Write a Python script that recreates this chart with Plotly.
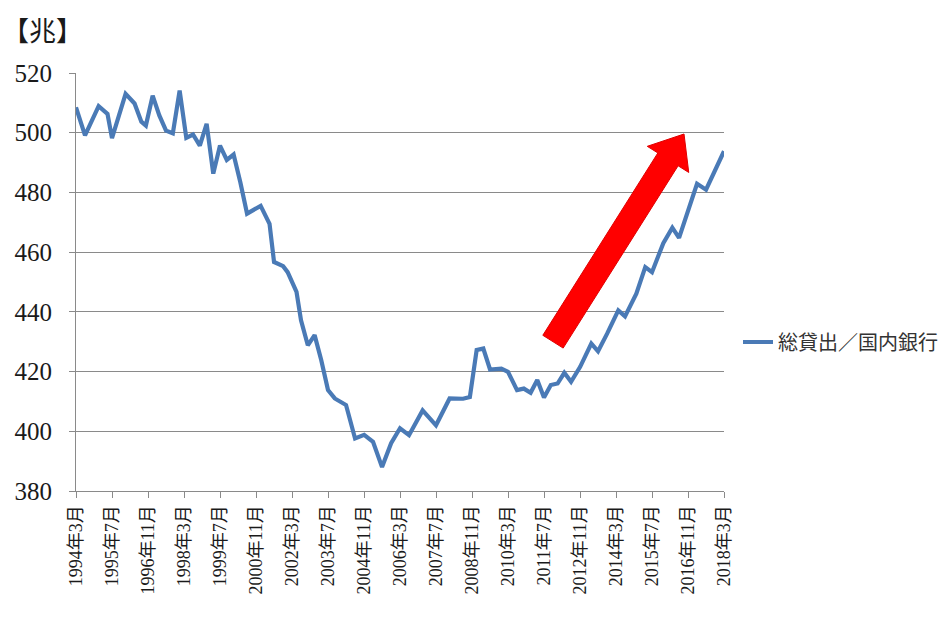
import numpy as np
import plotly.graph_objects as go

# ---- data ----
dates = [
    "1994-03", "1994-07", "1995-01", "1995-05", "1995-07", "1996-01", "1996-05", "1996-08",
    "1996-10", "1997-01", "1997-04", "1997-07", "1997-10", "1998-01", "1998-04", "1998-07",
    "1998-10", "1999-01", "1999-04", "1999-07", "1999-10", "2000-01", "2000-04", "2000-07",
    "2001-01", "2001-05", "2001-07", "2001-11", "2002-01", "2002-05", "2002-07", "2002-10",
    "2003-01", "2003-04", "2003-07", "2003-10", "2004-03", "2004-07", "2004-11", "2005-03",
    "2005-07", "2005-11", "2006-03", "2006-07", "2007-01", "2007-07", "2008-01", "2008-07",
    "2008-10", "2009-01", "2009-04", "2009-07", "2009-12", "2010-03", "2010-07", "2010-10",
    "2011-01", "2011-04", "2011-07", "2011-10", "2012-01", "2012-04", "2012-07", "2012-11",
    "2013-04", "2013-07", "2013-11", "2014-04", "2014-07", "2014-12", "2015-04", "2015-07",
    "2015-12", "2016-04", "2016-07", "2016-11", "2017-03", "2017-07", "2018-03",
]
loans = [
    508.5, 499.1, 508.9, 506.3, 498.2, 513.0, 509.8, 503.7,
    502.4, 512.4, 505.8, 500.7, 499.8, 514.1, 498.3, 499.4,
    495.7, 503.0, 486.3, 495.7, 490.9, 492.7, 483.4, 472.9,
    475.5, 469.5, 456.7, 455.3, 453.3, 446.7, 437.2, 428.8,
    432.2, 423.8, 413.8, 411.0, 408.8, 397.6, 398.8, 396.5,
    388.0, 396.0, 401.0, 398.7, 407.0, 402.0, 411.0, 410.9,
    411.5, 427.2, 427.7, 420.7, 421.0, 419.9, 413.8, 414.3,
    412.9, 417.2, 411.3, 415.5, 416.0, 419.6, 416.6, 421.6,
    429.4, 426.8, 432.7, 440.5, 438.5, 446.1, 455.0, 453.3,
    463.0, 468.2, 464.8, 474.0, 482.9, 480.9, 493.8,
]
tick_dates = [
    "1994-03", "1995-07", "1996-11", "1998-03", "1999-07", "2000-11", "2002-03",
    "2003-07", "2004-11", "2006-03", "2007-07", "2008-11", "2010-03", "2011-07",
    "2012-11", "2014-03", "2015-07", "2016-11", "2018-03",
]
tick_labels = [f"{d[:4]}年{int(d[5:])}月" for d in tick_dates]
series_name = "総貸出／国内銀行"
unit_label = "【兆】"

LINE = "#4A7AB6"
GRID = "#8A8A8A"
TXT = "#1a1a1a"
FONT = "Liberation Serif, Noto Sans CJK JP, serif"

W, H = 949, 627
ML, MR, MT, MB = 76, 225, 73, 136
PW, PH = W - ML - MR, H - MT - MB

fig = go.Figure()
fig.add_trace(go.Scatter(
    x=[d + "-01" for d in dates], y=loans, mode="lines", name=series_name,
    line=dict(color=LINE, width=4.2), showlegend=True,
))

# red block arrow (pixel geometry -> paper coords)
def to_paper(px, py):
    return (px - ML) / PW, (MT + PH - py) / PH

tail = np.array([553.0, 341.7])
tip = np.array([684.0, 134.0])
u = (tip - tail) / np.linalg.norm(tip - tail)
n = np.array([-u[1], u[0]])
w, Wh, hl = 12.0, 24.5, 30.0
base = tip - hl * u
pts = [tail + w * n, base + w * n, base + Wh * n, tip, base - Wh * n, base - w * n, tail - w * n]
path = "M " + " L ".join(f"{to_paper(*p)[0]:.4f},{to_paper(*p)[1]:.4f}" for p in pts) + " Z"
fig.add_shape(type="path", path=path, xref="paper", yref="paper",
              fillcolor="#FF0000", line=dict(color="#E00000", width=1), layer="above")

fig.add_annotation(text=unit_label, xref="paper", yref="paper",
                   x=(0 - ML) / PW, y=(MT + PH - 30) / PH, xanchor="left", yanchor="middle",
                   showarrow=False, font=dict(size=27, color=TXT, family="Noto Sans CJK JP"))

fig.update_layout(
    width=W, height=H,
    margin=dict(l=ML, r=MR, t=MT, b=MB, autoexpand=False),
    paper_bgcolor="white", plot_bgcolor="white",
    font=dict(family=FONT, color=TXT),
    legend=dict(x=(738 - ML) / PW, y=(MT + PH - 342) / PH, xanchor="left", yanchor="middle",
                font=dict(size=20, family="Noto Sans CJK JP", color="#333333"),
                bgcolor="rgba(0,0,0,0)", itemwidth=30),
    xaxis=dict(
        type="date", range=["1994-03-01", "2018-03-01"],
        tickvals=[d + "-01" for d in tick_dates], ticktext=tick_labels,
        tickangle=-90, tickfont=dict(size=18, family=FONT, color=TXT),
        showgrid=False, showline=True, linecolor=GRID, linewidth=1,
        ticks="outside", ticklen=6, tickcolor=GRID, zeroline=False,
    ),
    yaxis=dict(
        range=[380, 520], dtick=20, tick0=380,
        tickfont=dict(size=25, family=FONT, color=TXT),
        ticklabelstandoff=12,
        showgrid=True, gridcolor=GRID, gridwidth=1,
        showline=True, linecolor=GRID, linewidth=1,
        ticks="outside", ticklen=6, tickcolor=GRID, zeroline=False,
    ),
)

fig.write_html("out.html")
